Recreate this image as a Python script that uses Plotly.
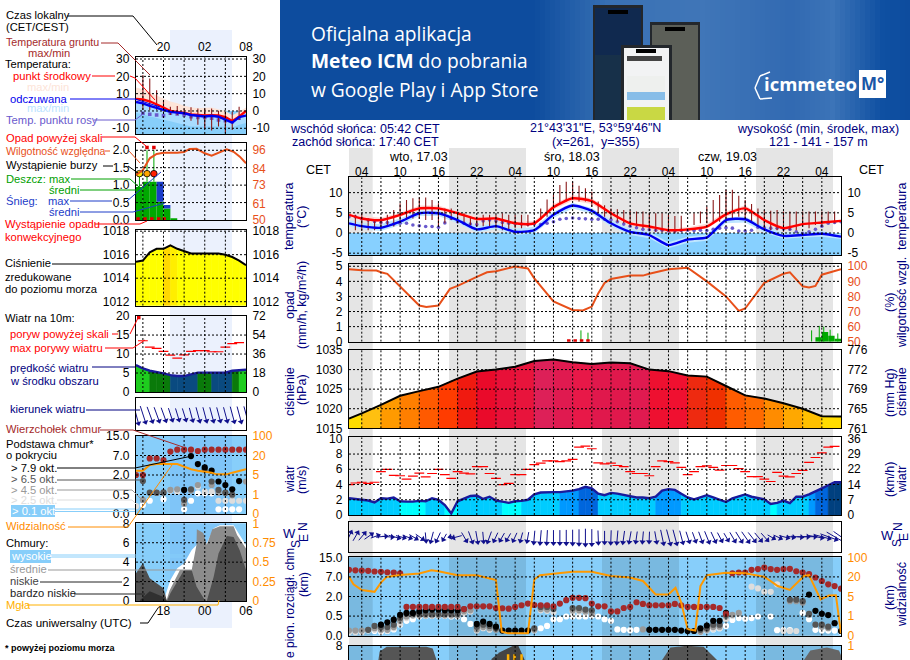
#meteogram ICM (UM 1.5km) with legend strip

import numpy as np
import plotly.graph_objs as go

W, H = 910, 660
FONT = 'Liberation Sans'

# ---- main chart data, x = hours from first forecast hour (02:00 CET)
t3 = [0,2,5,8,11,14,17,20,23,26,29,32,35,38,41,44,47,50,53,56,59,62,65,68,71,74,77]
temp = [4.5,3.6,3.2,4.5,6.1,6.1,4.9,3.5,3.6,2.4,2.4,6.4,8.6,7.9,4.9,2.4,1.6,.7,.9,1.6,4.6,6.1,3.2,1.2,2.2,2.6,3.0]
temp_max = [5.0,4.2,3.8,5.0,6.8,6.8,5.3,4.0,4.1,2.9,2.9,7.2,9.4,8.6,5.5,2.9,2.1,1.2,1.4,2.3,5.4,6.9,3.8,1.7,2.6,3.0,3.3]
temp_min = [3.9,3.1,2.7,4.0,5.6,5.6,4.5,3.0,3.1,2.0,2.0,5.8,8.0,7.2,4.3,1.9,1.0,.1,.3,1.1,4.0,5.4,2.6,.7,1.8,2.2,2.7]
feel = [2.4,1.7,1.3,2.8,4.9,4.9,3.2,.9,1.7,.3,.7,4.5,6.8,5.5,2.4,.3,-.5,-3,-1.6,-1.1,3.2,3.4,.9,-.7,-.5,-.2,-.9]
feel_max = [3.2,2.5,2.2,3.6,5.6,5.6,3.9,1.7,2.4,1.1,1.5,5.3,7.5,6.2,3.2,1.1,.3,-2.3,-.9,-.4,3.9,4.1,1.7,.1,.3,.5,-.3]
feel_min = [1.6,.9,.5,2.0,4.2,4.2,2.4,.1,.9,-.5,-.1,3.7,6.1,4.8,1.6,-.5,-1.3,-3.8,-2.4,-1.9,2.4,2.6,.1,-1.4,-1.1,-.9,-1.5]
dew = [4.0,4.0,3.5,3.2,2.8,2.6,2.6,2.2,2.4,2.4,2.0,1.8,1.6,1.6,1.4,2.5,3.6,2.8,2.4,2.2,2.1,3.0,3.2,3.0,2.6,2.4,2.3,2.2,2.1,2.2,2.1,2.4,2.8,3.4,3.6,3.7,3.6,3.5,3.4,3.4,3.4,3.3,2.8,2.2,1.7,1.3,.9,.8,.7,.7,.5,.5,.6,.7,.6,.7,.6,.9,1.2,1.3,1.2,.5,.5,.7,1.4,1.3,1.2,1.2,1.0,.9,.3,-.1,.3,.9,1.7,2.4,2.6,2.8]
ground_hours = list(range(1,77))
ground_max = [4.5,4.9,3.6,3.4,4.0,4.5,5.7,7.4,8.2,8.6,8.8,8.8,8.2,7.4,6.1,6.1,5.3,4.9,4.0,4.0,4.5,4.5,4.5,4.9,4.5,4.5,4.5,4.5,3.2,6.1,8.3,9.4,11.9,12.7,12.7,11.7,11.1,10.2,7.8,6.9,6.1,5.9,5.7,5.5,5.3,5.3,5.0,4.9,4.9,4.5,4.2,4.3,None,4.9,5.3,6.5,8.2,9.4,10.7,10.7,9.2,8.2,7.2,6.1,5.7,5.5,5.7,5.3,5.3,5.3,5.3,5.3,5.3,5.3,5.3,5.3]
ground_min = [.7,.7,.7,.7,1.2,1.6,1.6,2.8,3.2,3.6,3.6,3.2,3.2,1.6,2.4,3.2,2.4,2.4,2.0,1.6,1.7,1.6,1.2,.7,.7,1.2,1.2,1.6,2.0,3.2,4.0,5.7,7.4,7.8,8.2,7.8,7.8,6.5,4.9,4.0,3.6,2.8,2.4,2.0,1.6,1.2,.7,.3,.3,.3,-.1,.3,None,2.0,2.4,2.4,2.4,2.8,3.2,3.6,4.0,3.2,2.8,1.6,1.2,.7,.7,.3,.7,.7,1.6,1.2,2.0,1.6,2.4,2.4]

rh_hours = [0,2,4.3,5,6,8,11,12.1,14,15.8,17,20,21.6,23,26,28,29,32,35,36.6,38,39,40,41,44,46,47,50,53,56,59,61,62,65,68,69,71,72,73,74,77]
rh = [98,97.3,97.2,96,95,86.7,74,73,74,85,87,93,96,96.7,99.8,98.5,92,76.7,71,70.7,73.3,82,89,91.6,93.8,93.8,95,98,99,90,80,70.4,72,89,95,96,86.7,86,87,94.4,98]
rain_hours = [73,74,75,76]
rain_mean = [.3,.65,.4,.2]
rain_max_hours = [36.3,37.4,72.4,73.6,74.3,75.3,76.5]
rain_max = [.75,.6,.75,1.05,1.0,.8,.55]
convective_hours = [34.4,35.4,36.4,37.4]

pressure = [1017.5,1018.8,1021,1023.3,1024.5,1025.6,1027.7,1029.5,1030,1030.7,1032.2,1032.6,1031.9,1031.4,1031.8,1031.6,1030,1029.6,1028.5,1028.2,1025.8,1023.4,1022.6,1021.4,1020,1018.1,1018]
pressure_colors = ['#ffdd00','#ffc010','#ff9a00','#ff7f00','#ff5a00','#ff3c00','#f01a10','#ea0a2a','#e81038','#e8143c','#dd2058','#e01a50','#e81848','#e0184c','#e0184c','#e01a50','#ee1030','#f01030','#ee2a10','#f03000','#ff5c00','#ff6a00','#ff8c00','#ffa800','#ffc000','#ffdc00']

hours = list(range(78))
wind = [2.2,2.05,2.0,1.9,1.65,2.2,2.15,2.3,1.8,1.75,1.75,1.85,1.8,2.2,2.0,1.3,.2,1.8,2.1,2.5,2.55,2.1,2.4,1.9,1.75,1.6,1.8,1.85,2.0,2.7,2.95,3.0,3.0,3.0,3.1,3.2,3.4,3.7,3.5,2.8,2.6,2.9,2.8,2.6,2.4,2.3,2.3,2.2,2.4,3.2,3.4,3.3,2.8,2.3,2.05,2.3,2.6,2.3,2.0,1.7,2.2,2.5,2.7,2.4,2.2,2.05,1.45,1.6,1.9,1.55,2.4,2.4,2.7,3.05,3.5,3.9,4.3,4.3]
gust = [4.0,4.2,4.3,4.15,4.3,5.7,6.0,5.2,5.15,4.7,5.1,5.5,5.0,5.45,6.0,5.3,4.8,5.7,5.5,5.4,6.35,6.35,5.45,4.8,4.0,4.15,5.3,5.3,6.0,6.6,6.8,7.1,7.1,7.0,7.1,7.3,8.9,9.05,8.7,6.85,6.7,6.8,6.5,6.35,5.7,5.45,5.45,5.15,6.35,7.1,7.0,6.85,6.25,5.3,5.7,6.35,6.45,6.25,5.9,6.5,6.5,6.1,5.7,5.05,5.05,4.7,4.4,5.6,5.1,5.0,5.45,5.85,6.9,7.55,8.15,8.9,9.0]
wind_dir = [205,210,220,235,250,265,275,285,285,290,300,305,355,15,25,30,80,75,330,340,350,355,20,25,30,30,25,15,10,5,5,3,0,0,0,0,0,0,0,358,0,2,5,8,10,8,5,2,350,348,345,345,345,342,340,340,338,335,332,330,330,328,325,322,320,318,300,295,285,280,275,270,270,280,285,290,300,305]

cloud_top = [9.9,9.7,9.6,9.5,9.2,9.1,8.9,8.8,8.5,1.2,1.2,1.2,1.2,1.2,1.2,1.2,1.2,1.2,1.04,1.25,1.25,1.25,1.25,1.12,1.1,1.07,1.2,1.33,1.46,1.35,1.33,1.33,1.25,1.46,1.72,1.9,1.9,1.87,1.46,1.25,1.25,.86,.86,1.12,1.2,1.56,1.43,1.33,1.33,1.33,1.33,1.43,1.33,1.2,1.2,1.2,1.2,1.2,1.12,.68,8.5,8.8,8.8,9.9,10.2,10.8,10.2,9.9,10.2,10.3,9.3,8.8,8.1,6.85,5.95,5.1,4.65,4.0]
okt79_h = [5,6,7,8,9,10,11,12,13,14,15,16,17,20,21,22,23,24,25,26,27,28,47,48,49,50,51,52,53,54,55,56,57,58,59,72,73,74,75,76,77]
okt79 = [.28,.34,.41,.6,.74,.74,.86,.94,1.0,1.0,.94,.94,.94,.30,.36,.30,.23,.13,.13,.13,.13,.13,.15,.15,.15,.15,.15,.13,.12,.12,.19,.26,.38,.38,.74,2.5,.9,.68,.58,.32,.12]
okt65_h = [3,4,5,6,7,8,9,10,11,12,13,14,15,16,17,18,20,21,22,23,29,30,31,32,35,36,37,38,55,56,57,58,59,69,70,71,72,73,74,75]
okt65 = [.15,.25,.22,.22,.28,.45,.68,.68,.68,.68,.68,.68,.68,.68,.68,1.04,.23,.28,.25,.19,.19,1.2,1.2,1.04,1.12,1.12,1.0,.94,.15,.19,.28,.28,.6,1.76,1.76,1.64,.68,.28,.28,.23]
okt45_h = [0,1,2,3,4,5,6,7,8,9,10,11,12,13,14,15,16,17,18,19,20,21,22,23,29,30,31,35,36,37,38,46,55,56,57,58,59,60,61,69,70,71,72,74,75]
okt45 = [.13,.13,.13,.15,.19,.15,.15,.22,.38,.49,.56,.56,.56,.56,.56,.56,.56,.56,.86,.94,.16,.22,.19,.15,.15,1.04,1.0,.94,.94,.86,.74,.16,.1,.15,.22,.23,.49,.6,.74,1.64,1.64,1.52,.6,.23,.19]
okt25_h = [0,1,2,3,4,5,6,7,8,9,10,11,12,13,14,15,16,17,18,19,20,21,22,29,30,31,32,35,36,37,38,55,56,57,58,59,60,61,63,64,65,66,67,68,69,70]
okt25 = [.09,.09,.09,.13,.15,.13,.13,.19,.3,.45,.52,.52,.52,.52,.52,.52,.52,.52,.74,.86,.13,.19,.15,.13,.94,.9,.8,.86,.86,.8,.68,.09,.13,.17,.19,.42,.52,.68,4.5,4.05,3.2,3.2,5.1,.12,.12,.12]
okt01_h = [4,5,6,7,8,9,10,11,12,13,14,15,16,17,18,19,30,31,32,33,34,35,36,37,38,39,40,41,42,43,44,45,55,56,57,58,59,60,61,62,63,64,66,67,68,69,71,72,73,74,75,76,77]
okt01 = [.12,.1,.12,.16,.28,.38,.42,.49,.53,.53,.53,.53,.49,.49,.42,.3,.19,.25,.42,.42,.49,.49,.49,.49,.53,.49,.42,.38,.16,.15,.14,.15,.15,.16,.16,.19,.25,.4,.45,.43,.45,.49,.49,.14,.14,.14,.74,.42,.15,.13,.13,.13,.1]
vis_hours = [0,.7,2,4,5,5.9,8,11,12.9,14,17,20,23,23.9,24.9,28,29,29.9,32,35,38,41,44,46,48,50,51.1,52,53,54.2,55,56,59,62,65,67.1,69,71.2,72,73.8,75.1,76.2,77]
vis = [20.3,14.3,10,8.6,15.6,20,28,33.6,47,43,27,27,17.6,.2,.12,.12,18,27,33,41,41,24,19.6,16.9,6.5,6.5,11.7,3.7,.33,.26,13,27,37,35,20.6,13,10,24,27,4.4,5.75,6,.12]
cover_a_h = [4.6,4.8,5.9,12.1,13.1,13.7]
cover_a = [6.5,7.4,7.9,7.9,7.7,6.5]
cover_b_h = [22.3,23.6,25.7,26.5,27.5]
cover_b = [6.6,7.3,8,8,6.5]
cover_c_h = [49,50.3,52.9,55.5,57.6]
cover_c = [6.5,7.8,8,7.9,6.5]
cover_d_h = [71.2,72.2,74.8,76.7,77]
cover_d = [6.5,7.5,7.8,7.5,7]
fog_hours = [24.9,25.9,27]

# ---- legend strip data, x = hours from 20:00 local
h_s = [-4,-3,-2,-1,0,1,2,3,4,5,6,7,8,9,10,11,12]
temp_s = [7,6.6,5.6,3.9,2,0,-.5,-1.2,-2,-2.5,-2.6,-2.4,-2.6,-3.5,-5.8,-3.3,0]
temp_s_max = [13.6,12.5,10.8,9,7.2,5.5,4.5,3,2.2,1.6,1.8,2,1,0,-2.5,-.5,2]
temp_s_min = [5.5,5,4,2.5,1,-1,-1.5,-2.2,-3,-3.5,-3.6,-3.4,-3.5,-4.5,-6.8,-4.5,-1.2]
feel_s = [5.2,4.4,3,2,.6,-.5,-1,-1.3,-2.3,-2.7,-3.2,-2.8,-3.3,-5,-6.7,-3.5,-2.7]
feel_s_max = [5.9,5.1,3.7,2.7,1.3,.2,-.3,-.6,-1.6,-2,-2.5,-2.1,-2.6,-4.3,-6,-2.8,-2]
feel_s_min = [-1,-2,-3,-4,-5,-6,-7,-8,-9,-9,-9,-9,-9,-9,-9.5,-8,-7]
dew_s_h = [-3,-2,-1,0,1,2,3,4,5,6,7,8,9,10,11]
dew_s = [-1.3,-1.9,-2.3,-2.7,-1.3,-1.7,-2.3,-3.3,-3.7,-3.7,-4.2,-5.2,-5.6,-6.2,-4.2]
ground_s_h = [-3,-2,-1,0,1,2,3,4,5,6,7,8,9,10,11]
ground_s_max = [20.8,18.8,12,6.3,2.5,2.9,1.5,2.1,1.5,1.5,1.5,.2,-.4,-.4,2.5]
ground_s_min = [.6,.6,.6,-.4,-2.3,-2.3,-2.3,-5.6,-8,-10,-11.3,-9,-12.9,-11,-5.2]

rh_s = [79.7,83,90.7,93.6,94.4,94.4,94.9,96.9,97,94,92.5,95,96.6,95,91.8,87.4]
rh_s_h = [-4,-3,-2,-1,0,2,3,3.8,4.8,6,7,8.2,9.2,10.2,11.1,12]
rain_s_h = [-4,-3,-2,-1,0,1]
rain_s = [.95,1.1,1.1,.52,.33,.05]
snow_s = [0,0,0,.58,.1,0]
rain_s_max_h = [-3.5,-2.4,-1.4]
rain_s_max = [1.33,2.0,2.0]
storm_h = [-3.5,-2.4,-1.4]
storm_colors = ['#ffe600','#ffa500','#ff2000']
conv_s_h = [-3.7,-2.7,-1.7,-.7,.1]

pres_s = [1015.4,1015.5,1016.2,1016.5,1016.5,1016.8,1016.5,1016.3,1016.1,1016.1,1016.1,1016.1,1016.1,1016,1015.8,1015.5,1015.1]
pres_s_colors = ['#ffff00','#ffff00','#ffff00','#ffff00','#ffd800','#ffee00','#ffff00','#ffff00','#ffff00','#ffff00','#ffff00','#ffff00','#ffff00','#ffff00','#ffff00','#ffff00']

wind_s = [7.1,6.2,5.6,5.3,4.9,4.45,4.2,4.2,4.6,5.1,5.1,5.1,5,5.1,5.6,5.7,5.85]
wind_s_colors = ['#1ecc1e','#1ecc1e','#0a7a0a','#0a7a0a','#0a7a0a','#0a4a80','#0a4a80','#0a4a80','#0a4a80','#0a7a0a','#0a7a0a','#0a4a80','#0a4a80','#0a4a80','#0a7a0a','#1ecc1e']
gust_s_h = [-3,-2,-1,0,1,2,3,4,5,6,7,8,9,10,11]
gust_s = [13.5,11.8,11.5,10.7,9.7,8.9,9.8,10.7,10.9,10.9,10.6,10.6,11.8,12.75,13]
dir_s = [345,342,340,340,340,342,343,343,345,345,345,345,345,345,345,345,345]

top_s_km = [2.0,2.0,6.25,6.25,5.85,8.6,9.4,9.4,9.4,8.85,9.4,9.4,9.4,9.4,9.4,9.4,9.4]
o79_h = [3,4,5,6,7,8,9,10,11]
o79 = [.85,6.85,4.8,3.95,3.1,1.5,1.23,.9,1.53]
o65_h = [-3,-2,-1,0,3,4,6,7,8,9,10]
o65 = [1.53,.64,.64,.66,.36,.9,3.45,1.5,.85,.64,.5]
o45_h = [-3,-1,0,1,2,3,4,5,6,7,8,9,10,12]
o45 = [.36,.62,.62,.85,.9,.26,.8,1.23,3.3,1.23,.64,.62,.48,1.5]
o25_h = [-4,1,2,5,6,7,8,9,10,11,12]
o25 = [.2,.8,.72,1.1,.72,.72,.34,.34,.34,.34,.34]
o01_h = [-3,-2,0,3,4,5,6,7,8,9,10,11]
o01 = [.23,.34,.38,.12,.34,.59,.59,.59,.12,.12,.12,.12]
vis_s_h = [-4,-3,-2,-1,2,3,4,5,7,7.7,9.2,10,11,12]
vis_s = [8.3,8.3,12.7,13.4,13.4,11.4,9.4,8.3,6.8,5.5,5.5,6.8,8.3,9.4]

high_h = [0,1,2,3,4.1,4.8,6.3,7.3,8.2,10.2,10.9,12]
high = [0,2.16,3.36,3.88,5.25,5.77,5.94,7.5,7.8,7.8,7,5.77]
mid_h = [.4,.9,2.4,4.1,4.8,4.85,5.8,6.3,7.1,8.2,10.2,10.7,12]
mid = [0,1.1,3.2,3.2,5.8,7.4,7,5.8,7.4,7.7,7.7,6.8,5.4]
low_h = [-4,-3,-2,0,.5,1,3,4.1,4.8,6,6.3,7.3,8,9.2,10.2,11.1,12]
low = [2.85,3.88,2.33,1.3,0,.8,3.2,3.2,1.5,.1,0,2.5,4.9,6.7,6.6,5.2,3.2]
vlow_h = [-3.4,-2,0,.5]
vlow = [.1,1,.4,0]
fog_s_h = [8,9,10,11]
fog_s = [1.1,1.1,1.1,1.1]

# ---- ticks
loc_ticks = {-3:'',0:'20',3:'',6:'02',9:'',12:'08'}
utc_ticks = {-3:'',0:'18',3:'',6:'00',9:'',12:'06'}
cet_hours = [2,8,14,20,26,32,38,44,50,56,62,68,74]
cet_labels = ['04','10','16','22','04','10','16','22','04','10','16','22','04']
cloud_km_scale = [0,.5,2,7,15]
cloud_vis_scale = [0,1,5,20,100]
MAIN_GRID = [2,5,8,11,14,17,20,23,26,29,32,35,38,41,44,47,50,53,56,59,62,65,68,71,74]
SMALL_GRID = [-3,0,3,6,9]

def km_pos(v):
    return np.interp(v, cloud_km_scale, [0,1,2,3,4]).tolist()

def vis_pos(v):
    return np.interp(v, cloud_vis_scale, [0,1,2,3,4]).tolist()

fig = go.Figure()
shapes, notes = [], []
layout = {}
panel_no = 0

def fx(x): return x/W
def fy(y): return 1-y/H

def rect(x0,y0,x1,y1,color,layer='below'):
    shapes.append(dict(type='rect',xref='paper',yref='paper',x0=fx(x0),x1=fx(x1),y0=fy(y0),y1=fy(y1),
                       fillcolor=color,line=dict(width=0),layer=layer))

def poly(points,color,width=1):
    for a,b in zip(points[:-1],points[1:]):
        shapes.append(dict(type='line',xref='paper',yref='paper',x0=fx(a[0]),y0=fy(a[1]),x1=fx(b[0]),y1=fy(b[1]),
                           line=dict(color=color,width=width),layer='above'))

def note(x,y,text,color='black',size=12,anchor='left',angle=0,bold=False,family=FONT):
    if bold:
        text='<b>'+text+'</b>'
    notes.append(dict(x=fx(x),y=fy(y),xref='paper',yref='paper',text=text,showarrow=False,xanchor=anchor,yanchor='middle',
                      textangle=angle,font=dict(family=family,size=size,color=color),borderpad=0,borderwidth=0))

def panel(x0,x1,top,bot,xr,yr,yt,yl,rt=None,rl=None,rr=None,rcolor='black',grid=None,ygrid=None,xt=None,xl=None,xside='bottom',stand=0):
    global panel_no
    n=panel_no+1
    panel_no=n
    xa='x' if n==1 else 'x%d'%n
    ya='y%d'%(2*n-1) if n>1 else 'y'
    yb='y%d'%(2*n)
    layout['xaxis' if n==1 else 'xaxis%d'%n]=dict(domain=[fx(x0),fx(x1)],range=xr,anchor=ya,showgrid=False,zeroline=False,
        tickmode='array',tickvals=xt or [],ticktext=xl or [],side=xside,ticks='outside',ticklen=1,tickcolor='rgba(0,0,0,0)',ticklabelstandoff=stand,
        tickfont=dict(family=FONT,size=12,color='black'),showline=True,linecolor='black',linewidth=1.3,mirror=True)
    layout['yaxis' if n==1 else 'yaxis%d'%(2*n-1)]=dict(domain=[fy(bot),fy(top)],range=yr,anchor=xa,showgrid=False,zeroline=False,
        tickmode='array',tickvals=yt,ticktext=yl,ticks='outside',ticklen=3,tickcolor='rgba(0,0,0,0)',
        tickfont=dict(family=FONT,size=12,color='black'),showline=True,linecolor='black',linewidth=1.3,mirror=True)
    layout['yaxis%d'%(2*n)]=dict(domain=[fy(bot),fy(top)],range=rr or yr,anchor=xa,overlaying=ya,side='right',showgrid=False,zeroline=False,
        tickmode='array',tickvals=rt if rt is not None else [],ticktext=rl if rl is not None else [],ticks='outside',ticklen=3,tickcolor='rgba(0,0,0,0)',
        tickfont=dict(family=FONT,size=12,color=rcolor),showline=False)
    fig.add_trace(go.Scatter(x=[xr[0]],y=[(rr or yr)[0]],xaxis=xa,yaxis=yb,mode='none',showlegend=False,hoverinfo='skip'))
    path=''
    for g in (grid or []):
        path+='M %s %s L %s %s '%(g,yr[0],g,yr[1])
    for g in (ygrid or []):
        path+='M %s %s L %s %s '%(xr[0],g,xr[1],g)
    if path:
        shapes.append(dict(type='path',path=path,xref=xa,yref=ya,layer='above',line=dict(color='black',width=1,dash='2px,2px')))
    return xa,ya,yb

def line(x,y,xa,ya,color,width=2,shape='linear',smooth=None):
    ln=dict(color=color,width=width,shape=shape)
    if smooth is not None:
        ln['smoothing']=smooth
    fig.add_trace(go.Scatter(x=x,y=y,xaxis=xa,yaxis=ya,mode='lines',line=ln,showlegend=False,hoverinfo='skip'))

def band(x,hi,lo,xa,ya,color):
    fig.add_trace(go.Scatter(x=list(x)+list(x)[::-1],y=list(hi)+list(lo)[::-1],xaxis=xa,yaxis=ya,mode='none',fill='toself',
                             fillcolor=color,showlegend=False,hoverinfo='skip'))

def area(x,y,base,xa,ya,color):
    band(x,y,[base]*len(x),xa,ya,color)

def segments(x,y,colors,base,xa,ya):
    for i,c in enumerate(colors):
        fig.add_trace(go.Scatter(x=[x[i],x[i+1],x[i+1],x[i],x[i]],y=[y[i],y[i+1],base,base,y[i]],xaxis=xa,yaxis=ya,mode='lines',
                                 line=dict(color=c,width=.6),fill='toself',fillcolor=c,showlegend=False,hoverinfo='skip'))

def sticks(x,lo,hi,xa,ya,color,width=1):
    xs,ys=[],[]
    for a,b,c in zip(x,lo,hi):
        if b is None or c is None:
            continue
        xs+=[a,a,None]
        ys+=[b,c,None]
    line(xs,ys,xa,ya,color,width)

def dots(x,y,xa,ya,color,size=6.2,symbol='circle'):
    fig.add_trace(go.Scatter(x=x,y=y,xaxis=xa,yaxis=ya,mode='markers',marker=dict(color=color,size=size,symbol=symbol,line=dict(width=0)),
                             showlegend=False,hoverinfo='skip'))

def arrows(x,dirs,speed,xa,ya,px_x,px_y,scale,extra):
    # shaft as line, head as rotated triangle at the tip
    sx,sy,tx,ty,ang=[],[],[],[],[]
    for h,d,s in zip(x,dirs,speed):
        L=scale*s+extra
        dx=-L*np.sin(np.radians(d))/px_x
        dy=-L*np.cos(np.radians(d))/px_y
        sx+=[h-dx/2,h+dx/2,None]
        sy+=[.5-dy/2,.5+dy/2,None]
        tx.append(h+dx/2)
        ty.append(.5+dy/2)
        ang.append((d+180)%360)
    fig.add_trace(go.Scatter(x=sx,y=sy,xaxis=xa,yaxis=ya,mode='lines',line=dict(color='#10108c',width=1),cliponaxis=False,showlegend=False,hoverinfo='skip'))
    fig.add_trace(go.Scatter(x=tx,y=ty,xaxis=xa,yaxis=ya,mode='markers',marker=dict(symbol='triangle-up',size=5.5,angle=ang,color='#10108c',line=dict(width=0)),
                             cliponaxis=False,showlegend=False,hoverinfo='skip'))

# ---- banner
xs=np.arange(280,910,5)
r=np.interp(xs,[280,530,610,700,790,830,880,910],[13,13,58,64,50,60,15,13])
g=np.interp(xs,[280,530,610,700,790,830,880,910],[76,76,114,118,106,116,80,76])
b=np.interp(xs,[280,530,610,700,790,830,880,910],[158,158,181,184,178,184,162,158])
for x_,r_,g_,b_ in zip(xs,r,g,b):
    rect(x_,0,x_+5.5,120,'rgb(%d,%d,%d)'%(r_,g_,b_))
rect(593,5,643,120,'#23272c')
rect(595,8,641,120,'#10294f')
rect(608,10,628,14,'#000000')
rect(595,55,641,120,'#173049')
rect(650,22,700,120,'#23272c')
rect(652,25,698,120,'#5c5f58')
rect(665,27,685,31,'#000000')
rect(621,45,672,120,'#23272c')
rect(624,48,669,120,'#f2f3f4')
rect(636,49,656,53,'#000000')
rect(627,56,662,61,'#444444')
rect(627,76,665,92,'#eef0ee')
rect(627,92,665,100,'#87bde8')
rect(627,107,665,120,'#c9d844')
note(311,33,'Oficjalna aplikacja','white',19.2,family='Open Sans')
note(311,61,'<b>Meteo ICM</b> do pobrania','white',19.2,family='Open Sans')
note(311,89,'w Google Play i App Store','white',19.2,family='Open Sans')
note(810,84,'icmmeteo','white',18.5,'center',bold=True,family='Open Sans')
rect(859,70,886,98,'white')
note(872,84,'M°','#1a56a6',17,'center',bold=True,family='Open Sans')
poly([(770,72),(760,76),(755,88),(760,99),(772,98)],'white',1.5)

# ---- header
NAVY='#000080'
note(290,129,'wschód słońca: 05:42 CET',NAVY,12.5)
note(292,142,'zachód słońca: 17:40 CET',NAVY,12.5)
note(595.5,128,'21°43\'31"E, 53°59\'46"N',NAVY,12.5,'center')
note(595.5,142,'(x=261,  y=355)',NAVY,12.5,'center')
note(818,129,'wysokość (min, środek, max)',NAVY,12.5,'center')
note(818,142,'121 - 141 - 157 m',NAVY,12.5,'center')
note(418,157,'wto, 17.03','black',12.5,'center')
note(572,157,'śro, 18.03','black',12.5,'center')
note(727,157,'czw, 19.03','black',12.5,'center')
note(318,170,'CET','black',12.5,'center')
note(871,170,'CET','black',12.5,'center')

# ---- main panels
MX0,MX1=349,841
MR=[0,77]

xa,ya,yb=panel(MX0,MX1,177.3,255,MR,[-5.45,13.8],[10,5,0,-5],['10','5','0','-5'],[10,5,0,-5],['10','5','0','-5'],
               grid=MAIN_GRID,ygrid=[10,5,0,-5],xt=cet_hours,xl=cet_labels,xside='top',stand=-6)
shapes.append(dict(type='rect',xref=xa,yref=ya,x0=0,x1=77,y0=-5.45,y1=0,fillcolor='#87d0ff',line=dict(width=0),layer='below'))
band(t3,temp_max,temp_min,xa,ya,'#fcd9d5')
band(t3,feel_max,feel_min,xa,ya,'#bfe6ff')
dots(hours,dew,xa,ya,'#6a5acd',3.6)
sticks(ground_hours,ground_min,ground_max,xa,ya,'#8b1a1a',1.1)
line(t3,temp,xa,ya,'#ff0000',2.4,'spline',.6)
line(t3,feel,xa,ya,'#0000ee',2.4,'spline',.6)

xa,ya,yb=panel(MX0,MX1,264,341.7,MR,[0,5.15],[0,1,2,3,4,5],['0','1','2','3','4','5'],[50,60,70,80,90,100],['50','60','70','80','90','100'],
               [50,101.5],'#e8501a',MAIN_GRID,[1,2,3,4,5])
fig.add_trace(go.Bar(x=rain_hours,y=rain_mean,width=1,offset=0,xaxis=xa,yaxis=ya,marker=dict(color='#00a800',line=dict(width=0)),showlegend=False,hoverinfo='skip'))
sticks(rain_max_hours,[0]*len(rain_max),rain_max,xa,ya,'#00a800',1)
dots(convective_hours,[.04]*4,xa,ya,'#e00000',3.5,'square')
line(rh_hours,rh,xa,yb,'#e8501a',2)

xa,ya,yb=panel(MX0,MX1,350,428.3,MR,[1015,1035],[1015,1020,1025,1030,1035],['1015','1020','1025','1030','1035'],
               [1015,1020,1025,1030,1035],['761','765','769','772','776'],grid=MAIN_GRID,ygrid=[1020,1025,1030])
segments(t3,pressure,pressure_colors,1015,xa,ya)
line(t3,pressure,xa,ya,'black',2)

def wind_color(v):
    if v<1.9: return '#00ffff'
    if v<3.05: return '#00ccff'
    if v<3.45: return '#0099ff'
    if v<4: return '#0066dd'
    return '#00407f'
wind_colors=[wind_color(max(a,b)) for a,b in zip(wind[:-1],wind[1:])]
xa,ya,yb=panel(MX0,MX1,437.3,515,MR,[0,10.2],[0,2,4,6,8,10],['0','2','4','6','8','10'],[0,2,4,6,8,10],['0','7','14','22','29','36'],
               grid=MAIN_GRID,ygrid=[2,4,6,8])
segments(hours,wind,wind_colors,0,xa,ya)
line(hours,wind,xa,ya,'#1a1a9c',2.4)
fig.add_trace(go.Scatter(x=hours,y=gust,xaxis=xa,yaxis=ya,mode='markers',marker=dict(symbol='line-ew',size=7,line=dict(color='#ff0000',width=1.2)),showlegend=False,hoverinfo='skip'))

xa,ya,yb=panel(MX0,MX1,521.7,551.7,MR,[0,1],[],[],grid=[])
arrows(hours,wind_dir,wind,xa,ya,6.39,30,3.9,1.5)

rect(MX0,557.3,MX1,635.7,'#87cefa')
xa,ya,yb=panel(MX0,MX1,557.3,635.7,MR,[0,4],[0,1,2,3,4],['0.0','0.5','2.0','7.0','15.0'],[0,1,2,3,4],['0','1','5','20','100'],None,'#ff8c00',
               MAIN_GRID,[1,2,3])
dots(okt01_h,km_pos(okt01),xa,ya,'white')
dots(okt25_h,km_pos(okt25),xa,ya,'#dddddd')
dots(okt45_h,km_pos(okt45),xa,ya,'#999999')
dots(okt65_h,km_pos(okt65),xa,ya,'#555555')
dots(okt79_h,km_pos(okt79),xa,ya,'black')
dots(hours,km_pos(cloud_top),xa,ya,'#a52a2a')
line(vis_hours,vis_pos(vis),xa,ya,'#ff9900',2)

rect(MX0,645.7,MX1,660,'#87cefa')
xa,ya,yb=panel(MX0,MX1,645.7,660,MR,[6.5,8],[8],['8'],[8],['1'],None,'#ff8c00',MAIN_GRID,[])
area(cover_a_h,cover_a,0,xa,ya,'#555555')
area(cover_b_h,cover_b,0,xa,ya,'#444444')
area(cover_c_h,cover_c,0,xa,ya,'#555555')
area(cover_d_h,cover_d,0,xa,ya,'#666666')
sticks(fog_hours,[0]*3,[7.1]*3,xa,ya,'#ffb000',2.5)

# ---- rotated titles
for x_,y_,t in [(289,217,'temperatura'),(302,217,'(°C)'),(290,305,'opad'),(302,305,'(mm/h, kg/m²/h)'),(290,392,'ciśnienie'),(302,390,'(hPa)'),
                (290,480,'wiatr'),(302,480,'(m/s)'),(304,585,'(km)'),
                (890,217,'(°C)'),(902,217,'temperatura'),(890,303,'(%)'),(902,303,'wilgotność wzgl.'),(890,393,'(mm Hg)'),(902,392,'ciśnienie'),
                (890,480,'(km/h)'),(902,480,'wiatr'),(890,598,'(km)'),(902,595,'widzialność')]:
    note(x_,y_,t,NAVY,12.5,'center',-90)
note(290,602,'e pion. rozciągł. chm.',NAVY,12,'center',-90)
note(289,533,'W',NAVY,13,'center')
note(303,527,'N',NAVY,12,'center',-90)
note(304,538,'E',NAVY,12,'center',-90)
note(296,544,'S',NAVY,12,'center',-90)
note(887,535,'W',NAVY,13,'center')
note(898,527,'N',NAVY,12,'center',-90)
note(904,537,'E',NAVY,12,'center',-90)
note(897,543,'S',NAVY,12,'center',-90)

# ---- legend strip panels
SX0,SX1=136,246
SR=[-4,12]

xa,ya,yb=panel(SX0,SX1,57.3,134,SR,[-13.3,31],[30,20,10,0,-10],['30','20','10','0','-10'],[30,20,10,0,-10],['30','20','10','0','-10'],
               grid=SMALL_GRID,ygrid=[30,20,10,0,-10],xt=list(loc_ticks.keys()),xl=list(loc_ticks.values()),xside='top',stand=-1)
shapes.append(dict(type='rect',xref=xa,yref=ya,x0=-4,x1=12,y0=-13.3,y1=0,fillcolor='#87cefa',line=dict(width=0),layer='below'))
band(h_s,temp_s_max,temp_s_min,xa,ya,'#fde4d8')
band(h_s,feel_s_max,feel_s_min,xa,ya,'#a8dcff')
dots(dew_s_h,dew_s,xa,ya,'#6a5acd',3.6,'square')
sticks(ground_s_h,ground_s_min,ground_s_max,xa,ya,'#8b1a1a',1.1)
line(h_s,temp_s,xa,ya,'#ff0000',2.4)
line(h_s,feel_s,xa,ya,'#0000ee',2.4)

xa,ya,yb=panel(SX0,SX1,143.3,220,SR,[0,2.2],[0,.5,1,1.5,2],['0.0','0.5','1.0','1.5','2.0'],[50,61,73,84,96],['50','61','73','84','96'],
               [50,100.6],'#e8501a',SMALL_GRID,[.5,1,1.5,2])
fig.add_trace(go.Bar(x=rain_s_h,y=rain_s,width=1,offset=0,xaxis=xa,yaxis=ya,marker=dict(color='#00a800',line=dict(width=0)),showlegend=False,hoverinfo='skip'))
fig.add_trace(go.Bar(x=rain_s_h,y=snow_s,base=rain_s,width=1,offset=0,xaxis=xa,yaxis=ya,marker=dict(color='#1c3cc8',line=dict(width=0)),showlegend=False,hoverinfo='skip'))
sticks(rain_s_max_h,[.95,1.1,1.1],rain_s_max,xa,ya,'#00a800',1)
dots(storm_h[1:],[2.08,2.08],xa,ya,'#e00000',3.5,'square')
fig.add_trace(go.Scatter(x=storm_h,y=[1.33]*3,xaxis=xa,yaxis=ya,mode='markers',marker=dict(color=storm_colors,size=6.5,line=dict(color='black',width=.8)),showlegend=False,hoverinfo='skip'))
fig.add_trace(go.Scatter(x=conv_s_h,y=[.03]*5,xaxis=xa,yaxis=ya,mode='markers',marker=dict(color='#e00000',size=3.5,symbol='square',line=dict(width=0)),cliponaxis=False,showlegend=False,hoverinfo='skip'))
line(rh_s_h,rh_s,xa,yb,'#e8501a',2)

xa,ya,yb=panel(SX0,SX1,230,305.7,SR,[1011.66,1018.1],[1012,1014,1016,1018],['1012','1014','1016','1018'],[1012,1014,1016,1018],['1012','1014','1016','1018'],
               grid=SMALL_GRID,ygrid=[1012,1014,1016,1018])
segments(h_s,pres_s,pres_s_colors,1011.66,xa,ya)
line(h_s,pres_s,xa,ya,'black',2)

xa,ya,yb=panel(SX0,SX1,315.7,392,SR,[0,20.1],[0,5,10,15,20],['0','5','10','15','20'],[0,5,10,15,20],['0','18','36','54','72'],
               grid=SMALL_GRID,ygrid=[5,10,15])
segments(h_s,wind_s,wind_s_colors,0,xa,ya)
line(h_s,wind_s,xa,ya,'#1a1a9c',2.4)
fig.add_trace(go.Scatter(x=gust_s_h,y=gust_s,xaxis=xa,yaxis=ya,mode='markers',marker=dict(symbol='line-ew',size=7,line=dict(color='#ff0000',width=1.2)),showlegend=False,hoverinfo='skip'))
dots([-3.6],[19.6],xa,ya,'#e00000',3.5,'square')

xa,ya,yb=panel(SX0,SX1,398.3,430,SR,[0,1],[],[])
arrows(h_s,dir_s,wind_s,xa,ya,6.875,31.7,2.5,1.5)

rect(SX0,436,SX1,514,'#87cefa')
xa,ya,yb=panel(SX0,SX1,436,514,SR,[0,4],[0,1,2,3,4],['0.0','0.5','2.0','7.0','15.0'],[0,1,2,3,4],['0','1','5','20','100'],None,'#ff8c00',
               SMALL_GRID,[1,2,3])
dots(o01_h,km_pos(o01),xa,ya,'white')
dots(o25_h,km_pos(o25),xa,ya,'#dddddd')
dots(o45_h,km_pos(o45),xa,ya,'#999999')
dots(o65_h,km_pos(o65),xa,ya,'#555555')
dots(o79_h,km_pos(o79),xa,ya,'black')
dots(h_s,km_pos(top_s_km),xa,ya,'#a52a2a')
line(vis_s_h,vis_pos(vis_s),xa,ya,'#ff9900',2)

rect(SX0,523.3,SX1,601,'#87cefa')
xa,ya,yb=panel(SX0,SX1,523.3,601,SR,[0,8],[0,2,4,6,8],['0','2','4','6','8'],[0,2,4,6,8],['0','0.25','0.5','0.75','1'],None,'#ff8c00',
               SMALL_GRID,[2,4,6],xt=list(utc_ticks.keys()),xl=list(utc_ticks.values()),stand=-3)
area(high_h,high,0,xa,ya,'white')
area(mid_h,mid,0,xa,ya,'#8c8c8c')
area(low_h,low,0,xa,ya,'#505050')
area(vlow_h,vlow,0,xa,ya,'#303030')
fig.add_trace(go.Bar(x=fog_s_h,y=fog_s,width=.4,xaxis=xa,yaxis=ya,marker=dict(color='#ffb000',line=dict(width=0)),showlegend=False,hoverinfo='skip'))

# ---- legend strip texts
BROWN='#a52a2a'
LS=11.2
for x_,y_,t,c,s in [(6,15,'Czas lokalny','black',LS),(6,27,'(CET/CEST)','black',LS),(6,42,'Temperatura gruntu',BROWN,10.7),(28,53,'max/min',BROWN,LS),
                  (5,64,'Temperatura:','black',LS),(13,76,'punkt środkowy','#ff0000',LS),(27,87,'max/min','#fde4d8',LS),(10,99,'odczuwana','#0000ee',LS),
                  (27,108,'max/min','#b9e3ff',LS),(6,120,'Temp. punktu rosy','#6a5acd',LS),(6,138,'Opad powyżej skali','#ff0000',LS),
                  (6,151,'Wilgotność względna','#e8501a',10.6),(6,165,'Wystąpienie burzy','black',LS),(6,179,'Deszcz: max','#00a000',LS),(49,190,'średni','#00a000',LS),
                  (6,201,'Śnieg:','#1c3cc8',LS),(48,201,'max','#1c3cc8',LS),(49,212,'średni','#1c3cc8',LS),(5,224,'Wystąpienie opadu','#ff0000',LS),(5,237,'konwekcyjnego','#ff0000',LS),
                  (5,263,'Ciśnienie','black',LS),(5,277,'zredukowane','black',LS),(5,289,'do poziomu morza','black',LS),(5,318,'Wiatr na 10m:','black',LS),
                  (10,334,'poryw powyżej skali','#ff0000',LS),(10,348,'max porywy wiatru','#ff0000',LS),(10,368,'prędkość wiatru',NAVY,LS),(10,381,'w środku obszaru',NAVY,LS),
                  (10,409,'kierunek wiatru',NAVY,LS),(6,429,'Wierzchołek chmur',BROWN,LS),(6,444,'Podstawa chmur*','black',LS),(6,455,'o pokryciu','black',LS),
                  (11,468,'> 7.9 okt.','black',LS),(11,479,'> 6.5 okt.','#555555',LS),(11,490,'> 4.5 okt.','#999999',LS),(11,500,'> 2.5 okt.','#dddddd',LS),
                  (6,526,'Widzialność','#ff8c00',LS),(6,543,'Chmury:','black',LS),(10,569,'średnie','#999999',LS),(10,581,'niskie','#444444',LS),
                  (10,593,'bardzo niskie','#222222',LS),(6,605,'Mgła','#ffb000',LS),(6,622,'Czas uniwersalny (UTC)','black',11.6)]:
    note(x_,y_,t,c,s)
rect(11,505,55,517,'#87cefa')
note(12,511,'> 0.1 okt.','white',LS)
rect(10,550,51,563,'#87cefa')
note(11,556,'wysokie','white',LS)
note(5,648,'* powyżej poziomu morza','black',9,bold=True)

poly([(67,16),(133,16),(157,45)],'black')
poly([(101,43),(118,43),(150,75)],BROWN)
poly([(92,76),(115,76)],'#ff0000')
poly([(130,76),(135,78),(155,100)],'#ff0000')
poly([(70,99),(135,99),(160,107)],'#0000ee')
poly([(94,120),(135,120),(143,114)],'#6a5acd')
poly([(102,137),(135,137),(146,146)],'#ff0000')
poly([(105,151),(110,151)],'#e8501a')
poly([(129,151),(140,163)],'#e8501a')
poly([(103,166),(113,166)],'black')
poly([(128,166),(138,173)],'black')
poly([(71,179),(130,179),(139,187)],'#00a000')
poly([(80,190),(136,190)],'#00a000')
poly([(70,201),(112,201)],'#1c3cc8')
poly([(127,201),(161,172)],'#1c3cc8')
poly([(80,212),(133,212),(165,203)],'#1c3cc8')
poly([(95,224),(140,224),(147,221)],'#ff0000')
poly([(52,264),(135,264)],'black')
poly([(112,334),(118,334)],'#ff0000')
poly([(130,334),(139,316)],'#ff0000')
poly([(105,348),(133,348),(145,340)],'#ff0000')
poly([(92,367),(135,367)],NAVY)
poly([(86,410),(140,410)],NAVY)
poly([(100,430),(133,430),(183,447)],BROWN)
poly([(57,468),(135,468),(192,456)],'black')
poly([(57,480),(143,480)],'#555555')
poly([(57,490),(132,490),(142,500)],'#999999')
poly([(57,500),(132,500),(137,505)],'#dddddd')
poly([(55,509),(135,509)],'#87cefa')
poly([(55,511.5),(135,511.5)],'#87cefa')
poly([(68,527),(128,527),(172,465)],'#ff8c00')
poly([(51,555),(186,555)],'#87cefa')
poly([(51,557),(186,557)],'#87cefa')
poly([(48,570),(193,570)],'#999999')
poly([(40,582),(122,582)],'#222222')
poly([(135,582),(140,582)],'#222222')
poly([(74,594),(145,594)],'#222222')
poly([(27,605),(218,605),(219,600)],'#ffb000')
poly([(140,623),(148,623),(158,608)],'black')

# ---- night bands, under the traces so the filled panels keep their colours
for a,b in [(349,372.7),(449,526),(602,679),(756,833)]:
    rect(a,148,b,660,'rgba(0,0,0,0.1)','below')
rect(170,30,232,628,'rgba(60,120,240,0.1)','below')

layout.update(width=W,height=H,autosize=False,margin=dict(l=0,r=0,t=0,b=0,pad=0,autoexpand=False),paper_bgcolor='white',plot_bgcolor='rgba(0,0,0,0)',
              showlegend=False,hovermode=False,barmode='overlay',font=dict(family=FONT,size=12),shapes=shapes,annotations=notes)
fig.update_layout(**layout)
fig.write_html("out.html",config={'displayModeBar':False},post_script="document.body.style.margin='0';document.body.style.overflow='hidden';")
